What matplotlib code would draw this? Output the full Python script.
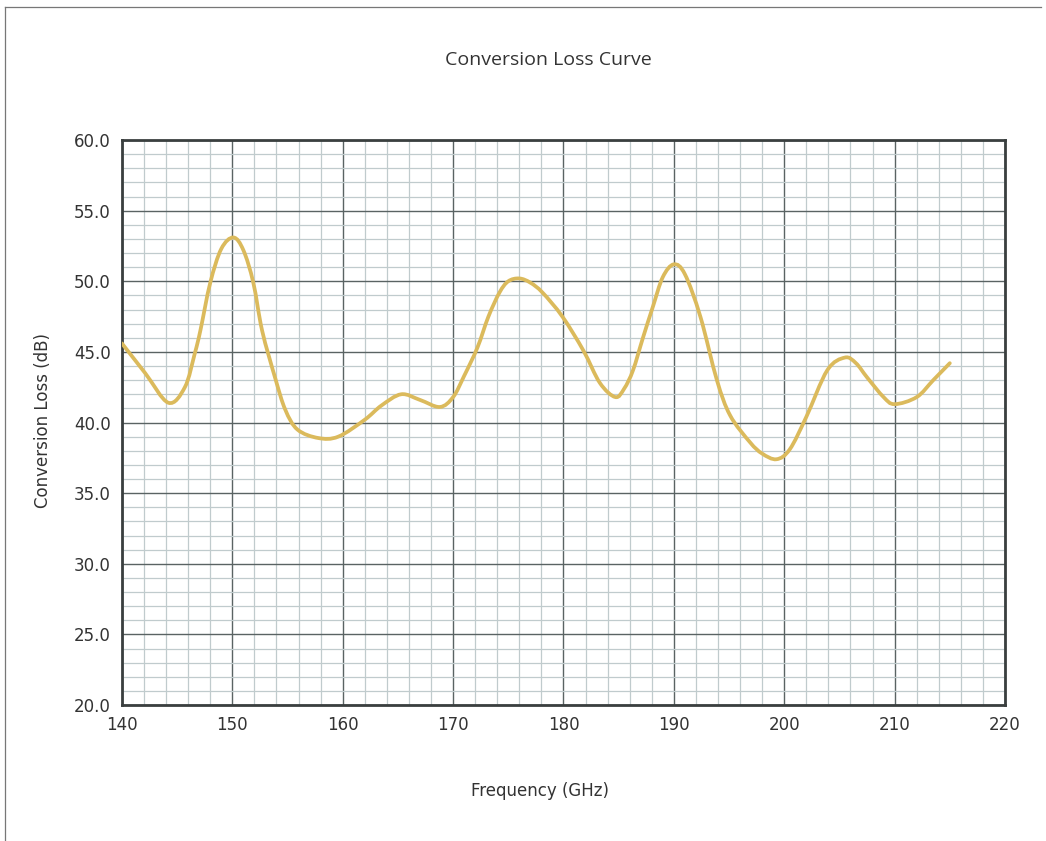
import matplotlib
matplotlib.use("Agg")
import numpy as np
import matplotlib.pyplot as plt
from matplotlib.ticker import MultipleLocator, FormatStrFormatter
from matplotlib.path import Path
from matplotlib.patches import PathPatch
from matplotlib.lines import Line2D

# Values
freq_ghz = [140.0, 142.1, 144.2, 145.7, 146.6, 147.1, 148.0, 149.0, 150.1, 151.0,
            151.9, 152.7, 153.9, 154.8, 155.9, 157.8, 159.6, 162.0, 163.5, 165.3,
            167.0, 168.8, 170.0, 171.0, 172.2, 173.2, 174.2, 175.0, 176.0, 177.0,
            178.1, 179.9, 181.8, 183.3, 184.7, 185.5, 186.3, 187.2, 188.1, 189.0,
            190.0, 191.0, 192.4, 193.9, 195.1, 196.9, 198.0, 199.3, 200.5, 202.0,
            203.9, 205.5, 206.5, 207.5, 209.0, 210.0, 212.0, 213.5, 215.0]
loss_db = [45.6, 43.5, 41.4, 42.5, 44.9, 46.5, 49.9, 52.3, 53.1, 52.2,
           49.9, 46.5, 43.1, 40.9, 39.5, 38.9, 39.0, 40.2, 41.2, 42.0,
           41.6, 41.1, 41.8, 43.3, 45.3, 47.5, 49.2, 50.0, 50.2, 49.9,
           49.2, 47.5, 45.1, 42.8, 41.8, 42.4, 43.7, 46.0, 48.2, 50.3,
           51.2, 50.5, 47.5, 43.0, 40.5, 38.6, 37.8, 37.4, 38.1, 40.4,
           43.7, 44.6, 44.2, 43.2, 41.8, 41.3, 41.8, 43.0, 44.2]

text_color = "#333333"


def smooth_path(xs, ys):
    # Catmull-Rom segments turned into cubic Bezier pieces (Excel-style smoothed line)
    p = np.column_stack([xs, ys]).astype(float)
    p = np.vstack([p[0], p, p[-1]])
    verts = [p[1]]
    codes = [Path.MOVETO]
    for i in range(1, len(p) - 2):
        c1 = p[i] + (p[i + 1] - p[i - 1]) / 6.0
        c2 = p[i + 1] - (p[i + 2] - p[i]) / 6.0
        verts += [c1, c2, p[i + 1]]
        codes += [Path.CURVE4] * 3
    return Path(verts, codes)


fig = plt.figure(figsize=(10.46, 8.41), dpi=100)
ax = fig.add_axes([0.1166, 0.1617, 0.8442, 0.6718])

# page border (top and left edges visible in the scan)
fig.add_artist(Line2D([0.005, 0.995], [0.9917, 0.9917], transform=fig.transFigure,
                      color="#777777", linewidth=0.9))
fig.add_artist(Line2D([0.005, 0.005], [0.0, 0.9917], transform=fig.transFigure,
                      color="#777777", linewidth=0.9))

ax.add_patch(PathPatch(smooth_path(freq_ghz, loss_db), facecolor="none",
                       edgecolor="#DBBA5C", linewidth=2.7, capstyle="round", zorder=3))

ax.set_xlim(140, 220)
ax.set_ylim(20, 60)
ax.xaxis.set_major_locator(MultipleLocator(10))
ax.xaxis.set_minor_locator(MultipleLocator(2))
ax.yaxis.set_major_locator(MultipleLocator(5))
ax.yaxis.set_minor_locator(MultipleLocator(1))
ax.yaxis.set_major_formatter(FormatStrFormatter("%.1f"))

ax.grid(which="minor", color="#c0cbcd", linewidth=0.9)
ax.grid(which="major", color="#5a6363", linewidth=1.0)
ax.set_axisbelow(True)
ax.tick_params(which="both", length=0, pad=8, labelsize=12, labelcolor=text_color)

for s in ax.spines.values():
    s.set_color("#3a3f3f")
    s.set_linewidth(2.0)

fig.text(0.524, 0.929, "Conversion Loss Curve", ha="center", va="center",
         fontsize=14, color=text_color, family="Open Sans")
fig.text(0.516, 0.060, "Frequency (GHz)", ha="center", va="center",
         fontsize=12, color=text_color)
fig.text(0.041, 0.50, "Conversion Loss (dB)", ha="center", va="center",
         rotation=90, fontsize=12, color=text_color)

fig.savefig("out.png", dpi=100)
